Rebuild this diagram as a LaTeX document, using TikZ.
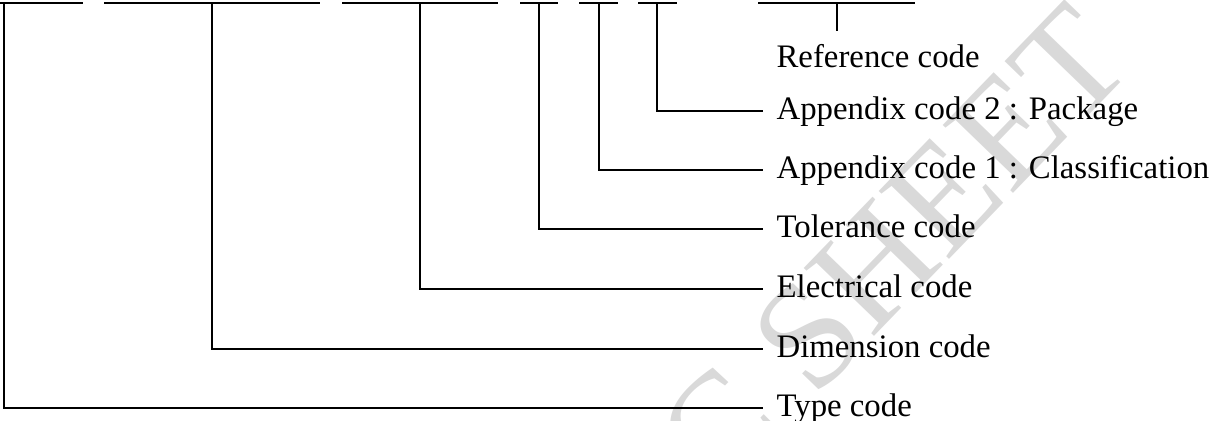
\documentclass[tikz,border=0pt]{standalone}
\usepackage{fontspec}
\setmainfont{Liberation Serif}
\begin{document}
\begin{tikzpicture}[x=0.75pt,y=-0.75pt]
\tikzset{
  codelabel/.style={anchor=west, inner xsep=10pt, inner ysep=0pt, text height=20pt, text depth=8pt, font=\fontsize{24.6}{30}\selectfont},
  codebar/.style={line width=1.5pt},
  codelink/.style={line width=1pt}
}
\useasboundingbox (0,0) rectangle (1210,421);
\clip (0,0) rectangle (1210,421);
\node[rotate=46, text=black!15, font=\fontsize{112}{112}\selectfont] (mark) at (893,248) {C SHEET};
\coordinate (ctype) at (4,2.5);
\coordinate (cdim) at (212,2.5);
\coordinate (celec) at (420,2.5);
\coordinate (ctol) at (539,2.5);
\coordinate (ccls) at (599,2.5);
\coordinate (cpkg) at (657,2.5);
\coordinate (cref) at (837,2.5);
\draw[codebar] (0,2.5) -- (83,2.5);
\draw[codebar] (104,2.5) -- (320,2.5);
\draw[codebar] (342,2.5) -- (498,2.5);
\draw[codebar] (520,2.5) -- (558,2.5);
\draw[codebar] (579,2.5) -- (618,2.5);
\draw[codebar] (638,2.5) -- (677,2.5);
\draw[codebar] (758,2.5) -- (915,2.5);
\node[codelabel] (ref) at (763,59) {Reference code};
\node[codelabel] (pkg) at (763,111) {Appendix code 2 : Package};
\node[codelabel] (cls) at (763,170) {Appendix code 1 : Classification};
\node[codelabel] (tol) at (763,229) {Tolerance code};
\node[codelabel] (elec) at (763,289) {Electrical code};
\node[codelabel] (dim) at (763,349) {Dimension code};
\node[codelabel] (type) at (763,408) {Type code};
\draw[codelink] (cref) -- ++(0,28.5);
\draw[codelink] (cpkg) |- (pkg.west);
\draw[codelink] (ccls) |- (cls.west);
\draw[codelink] (ctol) |- (tol.west);
\draw[codelink] (celec) |- (elec.west);
\draw[codelink] (cdim) |- (dim.west);
\draw[codelink] (ctype) |- (type.west);
\end{tikzpicture}
\end{document}
